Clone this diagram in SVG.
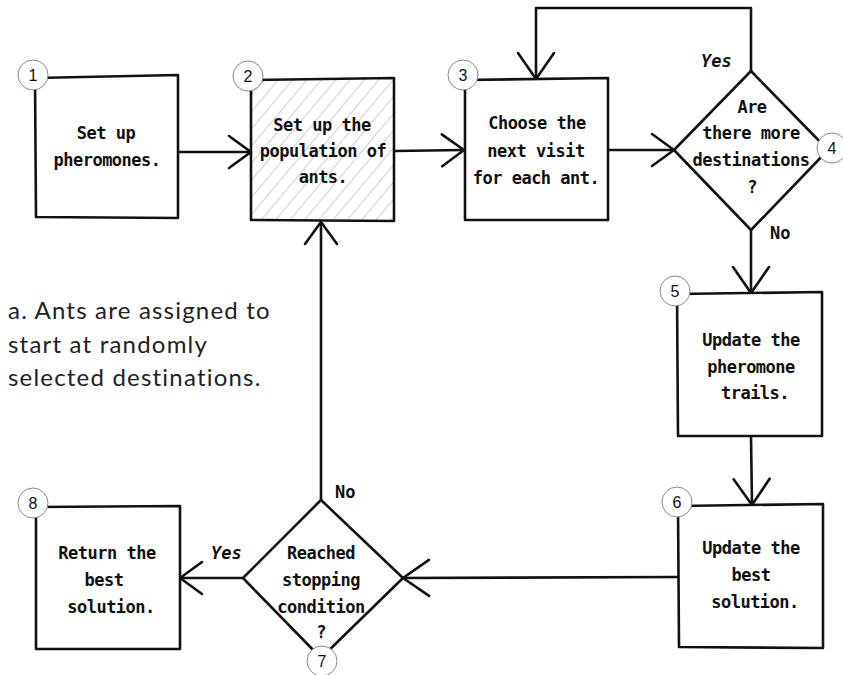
<svg xmlns="http://www.w3.org/2000/svg" width="843" height="675" viewBox="0 0 843 675">
  <defs>
    <pattern id="hatch" patternUnits="userSpaceOnUse" width="11" height="11" patternTransform="rotate(40)">
      <line x1="0" y1="0" x2="0" y2="11" stroke="#c4c4c4" stroke-width="1.6"/>
    </pattern>
    <marker id="open-arrow" markerUnits="userSpaceOnUse" viewBox="-30 -22 34 44" refX="0" refY="0" markerWidth="34" markerHeight="44" orient="auto" overflow="visible">
      <path d="M -22 -16 L 0 0 L -22 16" fill="none" stroke="#111" stroke-width="2.6" stroke-linecap="round" stroke-linejoin="round"/>
    </marker>
    <marker id="open-arrow-lg" markerUnits="userSpaceOnUse" viewBox="-30 -22 34 44" refX="0" refY="0" markerWidth="34" markerHeight="44" orient="auto" overflow="visible">
      <path d="M -26 -18 L 0 0 L -26 18" fill="none" stroke="#111" stroke-width="2.6" stroke-linecap="round" stroke-linejoin="round"/>
    </marker>
  </defs>
  <style>
    .shape { fill: #fff; stroke: #111; stroke-width: 2.6; stroke-linejoin: round; }
    .hatched { fill: url(#hatch); stroke: #111; stroke-width: 2.6; stroke-linejoin: round; }
    .badge { fill: #fff; stroke: #8a8a8a; stroke-width: 1; }
    .badge-num { font-family: "Liberation Sans", Arial, sans-serif; font-size: 16px; fill: #111; text-anchor: middle; }
    .label { font-family: "DejaVu Sans Mono", "Liberation Mono", monospace; font-size: 17px; letter-spacing: -0.5px; font-weight: bold; fill: #111; text-anchor: middle; }
    .edge { fill: none; stroke: #111; stroke-width: 2.6; stroke-linejoin: round; }
    .edge-label { font-family: "DejaVu Sans Mono", "Liberation Mono", monospace; font-size: 17px; font-weight: bold; fill: #111; }
    .note { font-family: "Lato", "Open Sans", sans-serif; font-size: 24px; letter-spacing: 1.2px; fill: #222; }
  </style>

  <rect width="843" height="675" fill="#fff"/>

  <g id="connectors">
    <path class="edge" d="M 178 152 L 251 152" marker-end="url(#open-arrow)"/>
    <path class="edge" d="M 394 151 L 464 150" marker-end="url(#open-arrow)"/>
    <path class="edge" d="M 608 150 L 674 150" marker-end="url(#open-arrow)"/>
    <path class="edge" d="M 751 71 L 751 8 L 536 8 L 536 79" marker-end="url(#open-arrow-lg)"/>
    <path class="edge" d="M 751 230 L 751 293" marker-end="url(#open-arrow-lg)"/>
    <path class="edge" d="M 751 436 L 752 505" marker-end="url(#open-arrow-lg)"/>
    <path class="edge" d="M 678 577 L 403 578" marker-end="url(#open-arrow-lg)"/>
    <path class="edge" d="M 243 578 L 180 578" marker-end="url(#open-arrow)"/>
    <path class="edge" d="M 321 500 L 321 222" marker-end="url(#open-arrow)"/>
    <text class="edge-label" x="701" y="67" font-style="italic">Yes</text>
    <text class="edge-label" x="770" y="239">No</text>
    <text class="edge-label" x="335" y="498">No</text>
    <text class="edge-label" x="211" y="559" font-style="italic">Yes</text>
  </g>

  <g id="node-1">
    <path class="shape" d="M 35 78 L 178 75 L 178 218 L 36 217 Z"/>
    <text class="label" x="106" y="139">Set up</text>
    <text class="label" x="107" y="166">pheromones.</text>
    <circle class="badge" cx="33" cy="75" r="15"/>
    <text class="badge-num" x="33" y="81">1</text>
  </g>

  <g id="node-2">
    <path class="hatched" d="M 251 80 L 394 78 L 394 221 L 251 220 Z"/>
    <text class="label" x="322" y="131">Set up the</text>
    <text class="label" x="323" y="157">population of</text>
    <text class="label" x="323" y="183">ants.</text>
    <circle class="badge" cx="248" cy="76" r="15"/>
    <text class="badge-num" x="248" y="82">2</text>
  </g>

  <g id="node-3">
    <path class="shape" d="M 465 80 L 608 78 L 608 220 L 465 220 Z"/>
    <text class="label" x="537" y="129">Choose the</text>
    <text class="label" x="536" y="157">next visit</text>
    <text class="label" x="536" y="184">for each ant.</text>
    <circle class="badge" cx="463" cy="75" r="15"/>
    <text class="badge-num" x="463" y="81">3</text>
  </g>

  <g id="node-4">
    <path class="shape" d="M 751 71 L 828 150 L 751 230 L 674 150 Z"/>
    <text class="label" x="752" y="113">Are</text>
    <text class="label" x="751" y="139">there more</text>
    <text class="label" x="751" y="166">destinations</text>
    <text class="label" x="752" y="193">?</text>
    <circle class="badge" cx="832" cy="148" r="15"/>
    <text class="badge-num" x="832" y="154">4</text>
  </g>

  <g id="node-5">
    <path class="shape" d="M 677 294 L 822 292 L 822 436 L 678 436 Z"/>
    <text class="label" x="751" y="346">Update the</text>
    <text class="label" x="751" y="373">pheromone</text>
    <text class="label" x="755" y="399">trails.</text>
    <circle class="badge" cx="675" cy="291" r="15"/>
    <text class="badge-num" x="675" y="297">5</text>
  </g>

  <g id="node-6">
    <path class="shape" d="M 678 506 L 823 504 L 823 648 L 679 647 Z"/>
    <text class="label" x="751" y="554">Update the</text>
    <text class="label" x="751" y="581">best</text>
    <text class="label" x="755" y="608">solution.</text>
    <circle class="badge" cx="677" cy="502" r="15"/>
    <text class="badge-num" x="677" y="508">6</text>
  </g>

  <g id="node-7">
    <path class="shape" d="M 321 500 L 403 578 L 321 658 L 243 578 Z"/>
    <text class="label" x="321" y="559">Reached</text>
    <text class="label" x="321" y="586">stopping</text>
    <text class="label" x="321" y="613">condition</text>
    <text class="label" x="321" y="638">?</text>
    <circle class="badge" cx="322" cy="661" r="15"/>
    <text class="badge-num" x="322" y="667">7</text>
  </g>

  <g id="node-8">
    <path class="shape" d="M 36 507 L 180 506 L 180 649 L 36 649 Z"/>
    <text class="label" x="107" y="559">Return the</text>
    <text class="label" x="104" y="586">best</text>
    <text class="label" x="111" y="613">solution.</text>
    <circle class="badge" cx="33" cy="503" r="15"/>
    <text class="badge-num" x="33" y="509">8</text>
  </g>

  <g id="note">
    <text class="note" x="8" y="319">a. Ants are assigned to</text>
    <text class="note" x="8" y="353">start at randomly</text>
    <text class="note" x="8" y="386">selected destinations.</text>
  </g>
</svg>
